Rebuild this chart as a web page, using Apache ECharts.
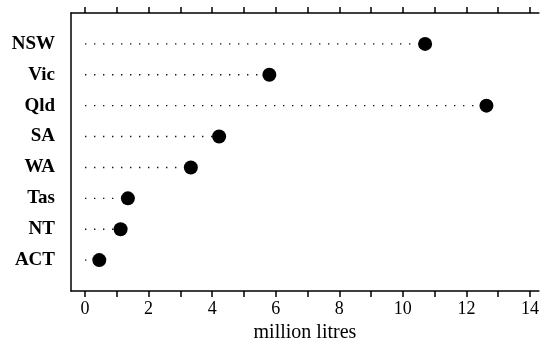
<!DOCTYPE html>
<html>
<head>
<meta charset="utf-8">
<script src="https://cdn.jsdelivr.net/npm/echarts@6/dist/echarts.min.js"></script>
<style>
html,body{margin:0;padding:0;background:#fff;}
#chart{width:542px;height:358px;}
</style>
</head>
<body>
<div id="chart"></div>
<script>
const categories = ['NSW', 'Vic', 'Qld', 'SA', 'WA', 'Tas', 'NT', 'ACT'];
const values = [10.7, 5.8, 12.63, 4.22, 3.33, 1.35, 1.12, 0.45];
const tickValues = [0, 1, 2, 3, 4, 5, 6, 7, 8, 9, 10, 11, 12, 13, 14];
const labelValues = [0, 2, 4, 6, 8, 10, 12, 14];
const axisTitle = 'million litres';

const font = 'Liberation Serif';
const yData = [''].concat(categories, ['']);

const lineSeries = categories.map(function (c, i) {
  return {
    type: 'line',
    xAxisIndex: 0,
    data: [[0, c], [values[i], c]],
    symbol: 'none',
    silent: true,
    lineStyle: { color: '#111', width: 1.4, type: [1.4, 7.6] },
    z: 1
  };
});

const chart = echarts.init(document.getElementById('chart'), null, { renderer: 'canvas' });
chart.setOption({
  animation: false,
  backgroundColor: '#fff',
  grid: { left: 71, right: 0, top: 13, bottom: 67, containLabel: false },
  xAxis: [
    {
      type: 'value', position: 'bottom', min: -0.44, max: 14.28,
      name: axisTitle, nameLocation: 'middle', nameGap: 25,
      nameTextStyle: { fontFamily: font, fontSize: 20, color: '#000' },
      axisLine: { show: true, onZero: false, lineStyle: { color: '#000', width: 1.5 } },
      axisTick: { show: true, customValues: tickValues, length: 6, lineStyle: { color: '#000', width: 1.5 } },
      axisLabel: { customValues: labelValues, margin: 9, fontFamily: font, fontSize: 18, color: '#000' },
      splitLine: { show: false }
    },
    {
      type: 'value', position: 'top', min: -0.44, max: 14.28,
      axisLine: { show: true, onZero: false, lineStyle: { color: '#000', width: 1.5 } },
      axisTick: { show: true, customValues: tickValues, length: 6, lineStyle: { color: '#000', width: 1.5 } },
      axisLabel: { show: false },
      splitLine: { show: false }
    }
  ],
  yAxis: {
    type: 'category', data: yData, inverse: true, boundaryGap: false,
    axisLine: { show: true, onZero: false, lineStyle: { color: '#000', width: 1.5 } },
    axisTick: { show: false },
    axisLabel: { margin: 16, fontFamily: font, fontSize: 19, fontWeight: 'bold', color: '#000' },
    splitLine: { show: false }
  },
  series: lineSeries.concat([{
    type: 'scatter',
    xAxisIndex: 0,
    data: categories.map(function (c, i) { return [values[i], c]; }),
    symbol: 'circle',
    symbolSize: 14,
    itemStyle: { color: '#000', opacity: 1 },
    z: 3
  }])
});
</script>
</body>
</html>
